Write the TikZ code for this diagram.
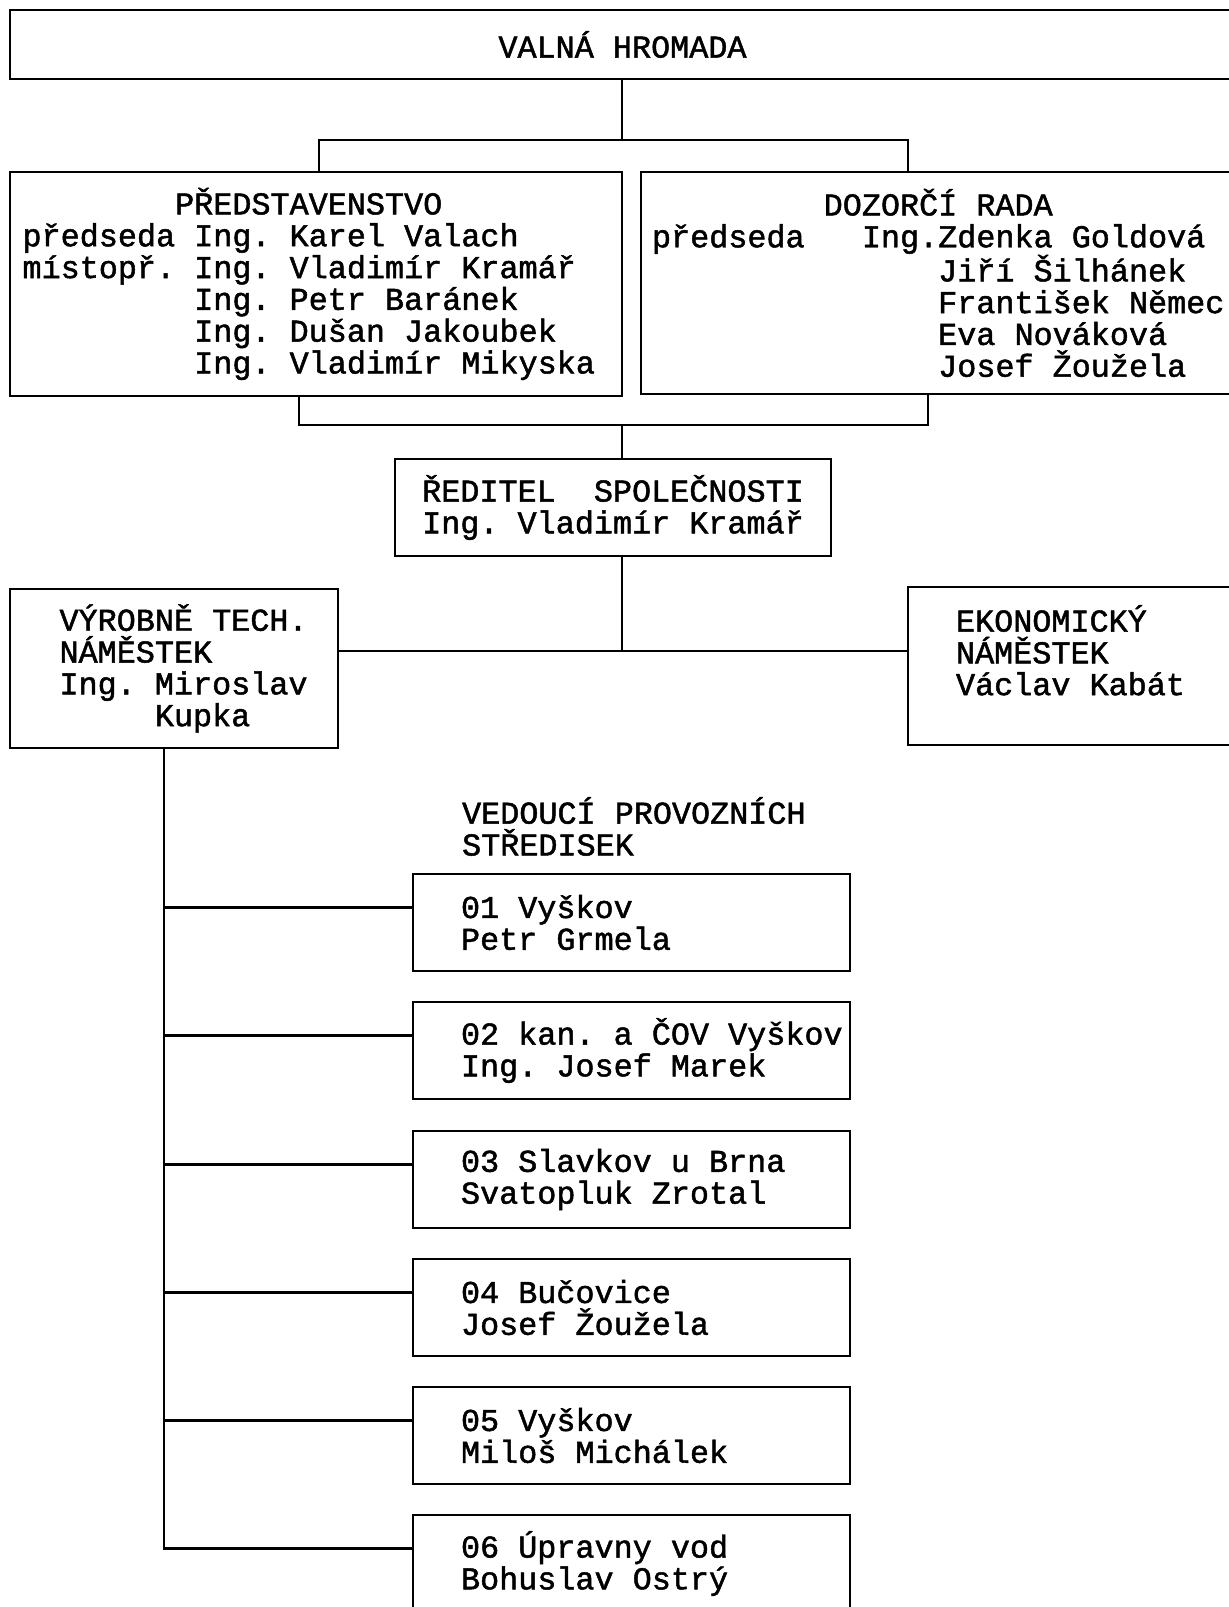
\documentclass[tikz,border=0pt]{standalone}
\usepackage{fontspec}
\newfontfamily\typewr[WordSpace={1,0,0},FakeBold=1.5]{Liberation Mono}
\usepackage{tikz}
\usetikzlibrary{positioning,calc}

\newcommand{\gap}[1]{\hspace*{#1\dimexpr0.6em\relax}}
\newcommand{\boxfont}{\typewr\fontsize{31.8}{31.8}\selectfont\frenchspacing\spaceskip=0.6em\relax}
\frenchspacing

\begin{document}
\begin{tikzpicture}[
            x=1pt, y=-1pt,
            box/.style={draw, rectangle, line width=2.2pt, inner sep=0pt, align=flush left, font=\boxfont},
            unit/.style={box, minimum width=437pt, minimum height=97pt, text width=341pt},
            link/.style={line width=2.2pt}
            ]
            \useasboundingbox (0,0) rectangle (1229,1607);
            \clip (0,0) rectangle (1229,1607);
            \fill[white] (0,0) rectangle (1229,1607);

            % Nodes with manual coordinates
            \node[box, minimum width=1225pt, minimum height=69pt, align=center] (hromada) at (622.5,44.5) {VALNÁ HROMADA};
            \node[box, minimum width=612pt, minimum height=224pt, text width=587pt] (board) at (316,284)
                {\gap{8}PŘEDSTAVENSTVO\\ předseda Ing. Karel Valach\\ místopř. Ing. Vladimír Kramář\\
                 \gap{9}Ing. Petr Baránek\\ \gap{9}Ing. Dušan Jakoubek\\ \gap{9}Ing. Vladimír Mikyska};
            \node[box, minimum width=609pt, minimum height=222pt, text width=587pt] (council) at (945.5,283)
                {\gap{9}DOZORČÍ RADA\\ předseda\gap{3}Ing.Zdenka Goldová\\ \gap{15}Jiří Šilhánek\\
                 \gap{15}František~Němec\\ \gap{15}Eva Nováková\\ \gap{15}Josef Žoužela};
            \node[box, minimum width=436pt, minimum height=97pt, align=center] (director) at (613,507.5)
                {ŘEDITEL\gap{2}SPOLEČNOSTI\\ Ing. Vladimír Kramář};
            \node[box, minimum width=328pt, minimum height=159pt, text width=229pt] (vt) at (174,668.5)
                {VÝROBNĚ~TECH.\\ NÁMĚSTEK\\ Ing.~Miroslav\\ \gap{5}Kupka};
            \node[box, minimum width=342pt, minimum height=158pt, text width=246pt] (ek) at (1079,666)
                {EKONOMICKÝ\\ NÁMĚSTEK\\ Václav Kabát\\ \mbox{}};
            \node[box, draw=none, anchor=west] (heads) at (461,826.5) {VEDOUCÍ PROVOZNÍCH\\ STŘEDISEK};
            \node[unit] (s1) at (631.5,922.5) {01 Vyškov\\ Petr Grmela};
            \node[unit] (s2) at (631.5,1050.5) {02~kan.~a~ČOV~Vyškov\\ Ing. Josef Marek};
            \node[unit] (s3) at (631.5,1179.5) {03 Slavkov u Brna\\ Svatopluk Zrotal};
            \node[unit] (s4) at (631.5,1307.5) {04 Bučovice\\ Josef Žoužela};
            \node[unit] (s5) at (631.5,1435.5) {05 Vyškov\\ Miloš Michálek};
            \node[unit] (s6) at (631.5,1563.5) {06 Úpravny vod\\ Bohuslav Ostrý};

            % Junction points
            \coordinate (split) at (622,140);
            \coordinate (topL) at (319,140);
            \coordinate (topR) at (908,140);
            \coordinate (join) at (622,425);
            \coordinate (botL) at (299,425);
            \coordinate (botR) at (928,425);
            \coordinate (mid) at (622,651);
            \coordinate (trunk) at (164,748);

            % Lines
            \draw[link] (hromada.south -| split) -- (split);
            \draw[link] (board.north -| topL) -- (topL) -- (topR) -- (council.north -| topR);
            \draw[link] (board.south -| botL) -- (botL) -- (botR) -- (council.south -| botR);
            \draw[link] (join) -- (director.north -| join);
            \draw[link] (director.south -| mid) -- (mid);
            \draw[link] (vt.east |- mid) -- (ek.west |- mid);
            \draw[link] (vt.south -| trunk) |- ([yshift=15pt]s6.west);
            \draw[link] ([yshift=15pt]s1.west) -| (trunk);
            \draw[link] ([yshift=15pt]s2.west) -| (trunk);
            \draw[link] ([yshift=15pt]s3.west) -| (trunk);
            \draw[link] ([yshift=15pt]s4.west) -| (trunk);
            \draw[link] ([yshift=15pt]s5.west) -| (trunk);
        \end{tikzpicture}
\end{document}
